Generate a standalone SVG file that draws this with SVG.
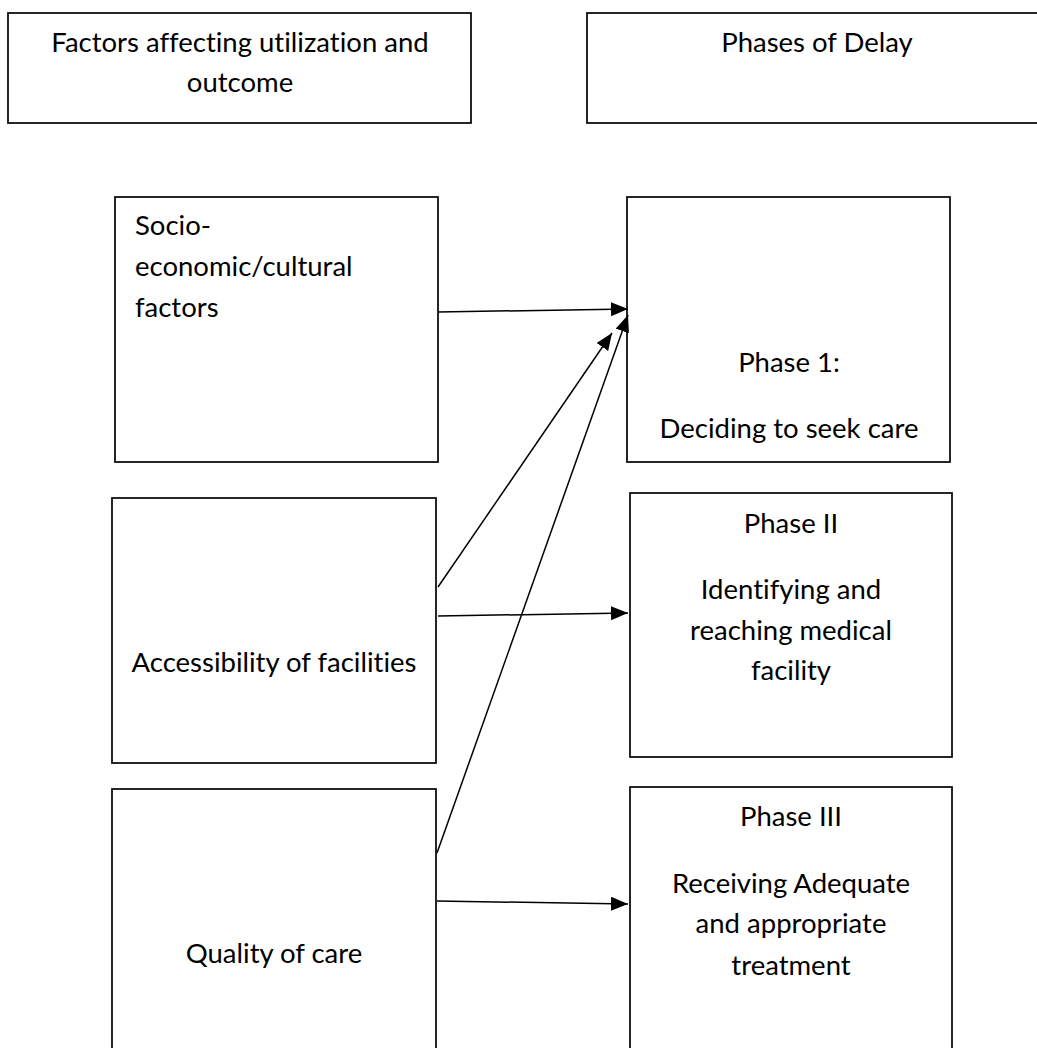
<svg xmlns="http://www.w3.org/2000/svg" width="1037" height="1048" viewBox="0 0 1037 1048">
<style>
.box{fill:#fff;stroke:#000;stroke-width:1.7}
.t{font-family:Lato,"Open Sans","Liberation Sans",sans-serif;font-size:27.5px;fill:#000;font-variant-ligatures:none;font-feature-settings:"liga" 0,"clig" 0}
.c{text-anchor:middle}
.con{stroke:#000;stroke-width:1.5;fill:none;marker-end:url(#arr)}
</style>
<defs>
<marker id="arr" markerUnits="userSpaceOnUse" markerWidth="18" markerHeight="15" refX="17" refY="7" orient="auto">
<path d="M0,0 L17,7 L0,14 z" fill="#000"/>
</marker>
</defs>
<rect width="1037" height="1048" fill="#fff"/>
<g id="header-factors">
<rect class="box" x="8" y="13" width="463" height="110"/>
<text class="t c" x="240" y="52">Factors affecting utilization and</text>
<text class="t c" x="240" y="92">outcome</text>
</g>
<g id="header-phases">
<rect class="box" x="587" y="13" width="470" height="110"/>
<text class="t c" x="817" y="52">Phases of Delay</text>
</g>
<g id="socio">
<rect class="box" x="115" y="197" width="323" height="265"/>
<text class="t" x="135" y="235">Socio-</text>
<text class="t" x="135" y="276">economic/cultural</text>
<text class="t" x="135" y="317">factors</text>
</g>
<g id="phase1">
<rect class="box" x="627" y="197" width="323" height="265"/>
<text class="t c" x="789" y="372">Phase 1:</text>
<text class="t c" x="789" y="438">Deciding to seek care</text>
</g>
<g id="access">
<rect class="box" x="112" y="498" width="324" height="265"/>
<text class="t c" x="274" y="672">Accessibility of facilities</text>
</g>
<g id="phase2">
<rect class="box" x="630" y="493" width="322" height="264"/>
<text class="t c" x="791" y="533">Phase II</text>
<text class="t c" x="791" y="599">Identifying and</text>
<text class="t c" x="791" y="640">reaching medical</text>
<text class="t c" x="791" y="680">facility</text>
</g>
<g id="quality">
<rect class="box" x="112" y="789" width="324" height="270"/>
<text class="t c" x="274" y="963">Quality of care</text>
</g>
<g id="phase3">
<rect class="box" x="630" y="787" width="322" height="272"/>
<text class="t c" x="791" y="826">Phase III</text>
<text class="t c" x="791" y="893">Receiving Adequate</text>
<text class="t c" x="791" y="933">and appropriate</text>
<text class="t c" x="791" y="975">treatment</text>
</g>
<g id="connectors">
<line class="con" x1="438" y1="312" x2="628" y2="309"/>
<line class="con" x1="438" y1="587" x2="612" y2="333"/>
<line class="con" x1="437" y1="853" x2="628" y2="315"/>
<line class="con" x1="438" y1="616" x2="628" y2="613"/>
<line class="con" x1="437" y1="901" x2="628" y2="904"/>
</g>
</svg>
